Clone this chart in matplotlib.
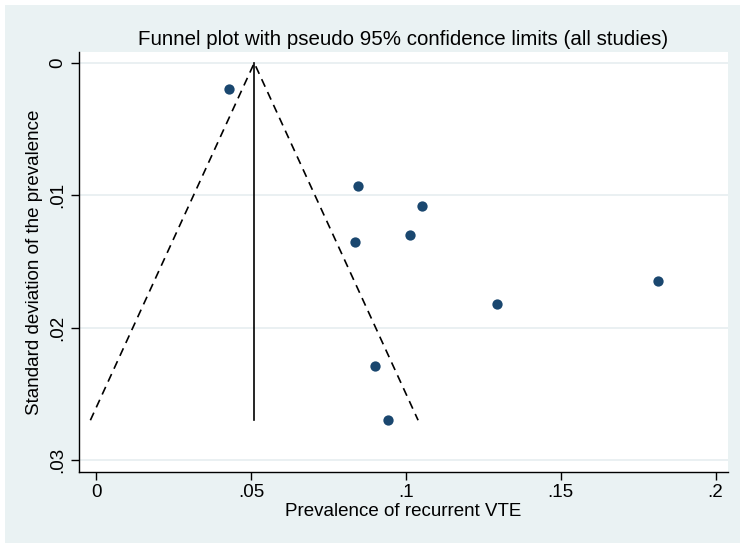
import matplotlib.pyplot as plt
from matplotlib.patches import Rectangle

# study estimates
prevalence = [0.0430, 0.0844, 0.1051, 0.0836, 0.1014, 0.1294, 0.1814, 0.0899, 0.0941]
std_dev = [0.00197, 0.0093, 0.01078, 0.0135, 0.0130, 0.01824, 0.0165, 0.0229, 0.02698]

pooled = 0.051
max_se = 0.027
z = 1.96

x_ticks = [0, 0.05, 0.1, 0.15, 0.2]
x_labels = ['0', '.05', '.1', '.15', '.2']
y_ticks = [0, 0.01, 0.02, 0.03]
y_labels = ['0', '.01', '.02', '.03']

plt.rcParams['font.family'] = ['Liberation Sans', 'DejaVu Sans']

fig = plt.figure(figsize=(7.44, 5.48), dpi=100, facecolor='white')
# Stata-like light bluish gray background with a thin white border
bg = Rectangle((5 / 744, 5 / 548), 735 / 744, 538 / 548,
               transform=fig.transFigure, facecolor='#EAF2F3',
               edgecolor='none', zorder=-10)
fig.add_artist(bg)

ax = fig.add_axes([0.1062, 0.1392, 0.8723, 0.7659])
ax.set_zorder(1)
ax.set_facecolor('white')

for yt in y_ticks:
    ax.axhline(yt, color='#E6EEF0', lw=1.2, zorder=1)

# pseudo 95% confidence limits
ax.plot([pooled - z * max_se, pooled, pooled + z * max_se], [max_se, 0, max_se],
        color='black', lw=1.2, dashes=(5, 3.5), zorder=2)
ax.plot([pooled, pooled], [0, max_se], color='black', lw=1.2, zorder=2)

ax.scatter(prevalence, std_dev, s=55, color='#1A476F', zorder=3, linewidths=0)

ax.set_xlim(-0.00559, 0.204)
ax.set_ylim(0.03089, -0.00083)

ax.set_xticks(x_ticks)
ax.set_xticklabels(x_labels)
ax.set_yticks(y_ticks)
ax.set_yticklabels(y_labels, rotation=90, va='center')

ax.tick_params(direction='out', length=6, width=1, color='black', labelsize=13.5, pad=3)
for side in ['top', 'right']:
    ax.spines[side].set_visible(False)
for side in ['left', 'bottom']:
    ax.spines[side].set_linewidth(1)

ax.set_xlabel('Prevalence of recurrent VTE', fontsize=13.5, labelpad=1)
ax.set_ylabel('Standard deviation of the prevalence', fontsize=13.5, labelpad=5)
ax.set_title('Funnel plot with pseudo 95% confidence limits (all studies)', fontsize=14.8, pad=5)

fig.savefig('out.png', dpi=100, facecolor=fig.get_facecolor())
